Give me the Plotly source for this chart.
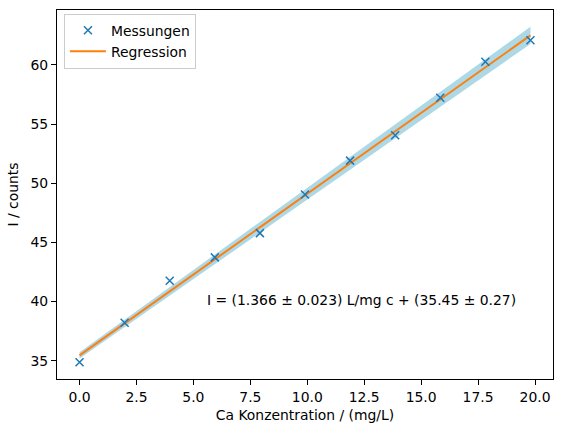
import numpy as np
import plotly.graph_objects as go

# Data
conc = [0.0, 1.98, 3.96, 5.94, 7.92, 9.9, 11.88, 13.86, 15.84, 17.82, 19.8]
counts = [34.87, 38.2, 41.75, 43.73, 45.78, 49.05, 51.91, 54.05, 57.23, 60.27, 62.09]
slope, slope_err = 1.366, 0.023
intercept, intercept_err = 35.45, 0.27
x_ticks = [0.0, 2.5, 5.0, 7.5, 10.0, 12.5, 15.0, 17.5, 20.0]
y_ticks = [35, 40, 45, 50, 55, 60]
label_text = "I = (1.366 ± 0.023) L/mg c + (35.45 ± 0.27)"

xf = np.array([min(conc), max(conc)])
fit = slope * xf + intercept
upper = (slope + slope_err) * xf + (intercept + intercept_err)
lower = (slope - slope_err) * xf + (intercept - intercept_err)

font = "DejaVu Sans"
fs = 13.9
fig = go.Figure()
fig.add_trace(go.Scatter(x=xf, y=upper, mode="lines", line=dict(width=0), showlegend=False, hoverinfo="skip"))
fig.add_trace(go.Scatter(x=xf, y=lower, mode="lines", line=dict(width=0), fill="tonexty",
                         fillcolor="#add8e6", showlegend=False, hoverinfo="skip"))
fig.add_trace(go.Scatter(x=xf, y=fit, mode="lines", name="Regression",
                         line=dict(color="#ff7f0e", width=2), legendrank=2))
fig.add_trace(go.Scatter(x=conc, y=counts, mode="markers", name="Messungen",
                         marker=dict(symbol="x-thin", size=8, line=dict(color="#1f77b4", width=1.5), color="#1f77b4"),
                         legendrank=1))

fig.add_annotation(x=5.5, y=40.1, text=label_text, showarrow=False, xanchor="left", yanchor="middle",
                   font=dict(family=font, size=fs, color="black"))

xr = [-0.99, 20.79]
yr = [33.45, 64.64]
axis_common = dict(showline=True, linecolor="black", linewidth=1, mirror=True, ticks="outside",
                   ticklen=5, tickcolor="black", showgrid=False, zeroline=False,
                   tickfont=dict(family=font, size=fs, color="black"))
fig.update_xaxes(range=xr, tickvals=x_ticks, tickformat=".1f",
                 title=dict(text="Ca Konzentration / (mg/L)", font=dict(family=font, size=fs, color="black"), standoff=6),
                 **axis_common)
fig.update_yaxes(range=yr, tickvals=y_ticks,
                 title=dict(text="I / counts", font=dict(family=font, size=fs, color="black"), standoff=8),
                 **axis_common)
fig.update_layout(width=563, height=433, margin=dict(l=57, r=10, t=10, b=54),
                  plot_bgcolor="white", paper_bgcolor="white",
                  legend=dict(x=0.014, y=0.99, xanchor="left", yanchor="top", bordercolor="#cccccc",
                              borderwidth=1, bgcolor="rgba(255,255,255,0.8)", traceorder="normal",
                              itemwidth=36, tracegroupgap=0,
                              font=dict(family=font, size=fs, color="black")),
                  font=dict(family=font, size=fs, color="black"))
fig.write_html("out.html")
